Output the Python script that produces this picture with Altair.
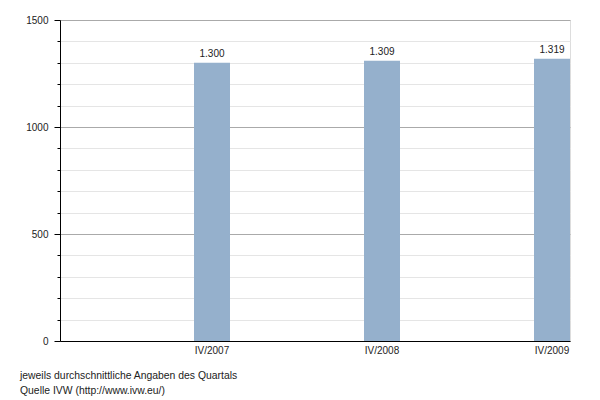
import altair as alt
import pandas as pd

categories = ["IV/2007", "IV/2008", "IV/2009"]
values = [1300, 1309, 1319]
labels = [f"{v:,}".replace(",", ".") for v in values]
y_ticks = list(range(0, 1501, 100))

df = pd.DataFrame({"quarter": categories, "value": values, "label": labels})

FONT = "Liberation Sans"
BAR_COLOR = "#95b0cc"
SHIFT = 67
FS = 10

y_axis = alt.Axis(
    title=None,
    values=y_ticks,
    format="d",
    labelExpr="datum.value % 500 === 0 ? datum.label : ''",
    labelOverlap=False,
    labelBound=False,
    grid=True,
    gridColor={"condition": {"test": "datum.value % 500 === 0", "value": "#aaaaaa"}, "value": "#e5e5e5"},
    tickColor="#000",
    tickSize={"condition": {"test": "datum.value % 500 === 0", "value": 6}, "value": 3},
    domainColor="#000",
    labelColor="#222", labelFont=FONT, labelFontSize=FS, labelPadding=6,
)
y_scale = alt.Scale(domain=[0, 1500], nice=False)

base = alt.Chart(df).encode(
    x=alt.X(
        "quarter:N",
        sort=categories,
        scale=alt.Scale(paddingInner=0, paddingOuter=0),
        axis=alt.Axis(
            title=None, labelAngle=0, ticks=False, labelOffset=SHIFT,
            domainColor="#000", labelColor="#222", labelFont=FONT,
            labelFontSize=FS, labelPadding=4, grid=False,
        ),
    ),
    y=alt.Y("value:Q", scale=y_scale, axis=y_axis),
)

bars = base.mark_bar(size=36, xOffset=SHIFT, color=BAR_COLOR)

text = base.mark_text(
    xOffset=SHIFT, dy=-4, baseline="bottom", font=FONT, fontSize=FS, color="#222"
).encode(text="label:N")

chart = (
    alt.layer(bars, text)
    .properties(
        width=510,
        height=321,
        padding={"left": 52, "top": 12, "right": 22, "bottom": 70},
        autosize=alt.AutoSizeParams(type="none"),
        title=alt.TitleParams(
            text="jeweils durchschnittliche Angaben des Quartals",
            subtitle="Quelle IVW (http://www.ivw.eu/)",
            orient="bottom", anchor="start", frame="group",
            dx=-40, offset=16, font=FONT, fontSize=10.4, fontWeight="normal",
            color="#222", subtitleFont=FONT, subtitleFontSize=10.4,
            subtitleColor="#222", subtitlePadding=5,
        ),
    )
    .configure_view(stroke=None)
    .configure(background="white")
)

chart.save("out.html", embed_options={"renderer": "svg", "actions": False})
